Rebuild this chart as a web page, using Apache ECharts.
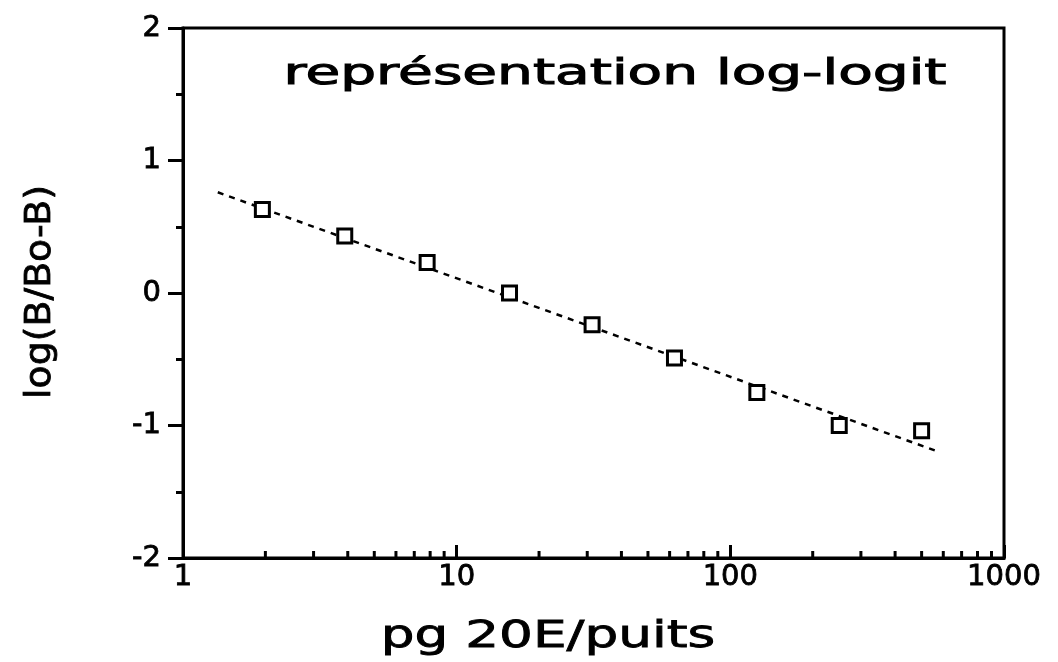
<!DOCTYPE html>
<html>
<head>
<meta charset="utf-8">
<script src="https://cdn.jsdelivr.net/npm/echarts@6/dist/echarts.min.js"></script>
<style>
  html, body { margin: 0; padding: 0; background: #fff; }
  #chart { width: 1058px; height: 662px; }
</style>
</head>
<body>
<div id="chart"></div>
<script>
// dosages (pg 20E / puits) et log(B/Bo-B)
var doses = [1.95, 3.9, 7.8, 15.6, 31.25, 62.5, 125, 250, 500];
var logitValues = [0.63, 0.43, 0.23, 0.0, -0.24, -0.49, -0.75, -1.0, -1.04];
// droite de régression (extrémités)
var fitX = [1.34, 580];
var fitY = [0.76, -1.2];
// graduations secondaires de l'axe log
var minorTicksX = [2, 3, 4, 5, 6, 7, 8, 9, 20, 30, 40, 50, 60, 70, 80, 90, 200, 300, 400, 500, 600, 700, 800, 900];

var FONT = '"DejaVu Sans", sans-serif';

var myChart = echarts.init(document.getElementById('chart'));

var labelStyle = {
    color: '#000',
    fontFamily: FONT,
    fontSize: 29,
    textBorderColor: '#000',
    textBorderWidth: 0.8
};

var option = {
    backgroundColor: '#fff',
    animation: false,
    grid: {
        left: 183,
        top: 28,
        right: 54,
        bottom: 104,
        show: true,
        borderColor: '#000',
        borderWidth: 3,
        backgroundColor: 'transparent'
    },
    xAxis: {
        type: 'log',
        logBase: 10,
        min: 1,
        max: 1000,
        axisLine: { show: true, onZero: false, lineStyle: { color: '#000', width: 3 } },
        axisTick: { show: true, inside: true, length: 13, lineStyle: { color: '#000', width: 3 } },
        axisLabel: Object.assign({ margin: 5, formatter: function (v) { return String(v); } }, labelStyle),
        splitLine: { show: false }
    },
    yAxis: {
        type: 'value',
        min: -2,
        max: 2,
        interval: 1,
        axisLine: { show: true, onZero: false, lineStyle: { color: '#000', width: 3 } },
        axisTick: { show: true, inside: false, length: 15, lineStyle: { color: '#000', width: 3 } },
        minorTick: { show: true, splitNumber: 2, length: 7, lineStyle: { color: '#000', width: 3 } },
        axisLabel: Object.assign({ margin: 22 }, labelStyle),
        splitLine: { show: false }
    },
    graphic: [
        {
            type: 'text',
            x: 615, y: 75,
            scaleX: 1.57,
            style: {
                text: 'représentation log-logit',
                font: '36px ' + FONT,
                fill: '#000',
                stroke: '#000',
                lineWidth: 1,
                align: 'center',
                verticalAlign: 'middle'
            }
        },
        {
            type: 'text',
            x: 41, y: 292,
            rotation: Math.PI / 2,
            scaleX: 1.05,
            style: {
                text: 'log(B/Bo-B)',
                font: '36px ' + FONT,
                fill: '#000',
                stroke: '#000',
                lineWidth: 0.8,
                align: 'center',
                verticalAlign: 'middle'
            }
        },
        {
            type: 'text',
            x: 548, y: 637,
            scaleX: 1.4,
            style: {
                text: 'pg 20E/puits',
                font: '38px ' + FONT,
                fill: '#000',
                stroke: '#000',
                lineWidth: 0.8,
                align: 'center',
                verticalAlign: 'middle'
            }
        }
    ],
    series: [
        {
            // petites graduations de l'axe x (vers l'intérieur)
            type: 'custom',
            silent: true,
            data: minorTicksX.map(function (v) { return [v, -2]; }),
            renderItem: function (params, api) {
                var p = api.coord([api.value(0), api.value(1)]);
                return {
                    type: 'line',
                    shape: { x1: p[0], y1: p[1], x2: p[0], y2: p[1] - 7 },
                    style: { stroke: '#000', lineWidth: 3 }
                };
            }
        },
        {
            type: 'line',
            data: fitX.map(function (x, i) { return [x, fitY[i]]; }),
            symbol: 'none',
            lineStyle: { color: '#000', width: 2.5, type: [6, 6] },
            z: 2
        },
        {
            type: 'scatter',
            data: doses.map(function (x, i) { return [x, logitValues[i]]; }),
            symbol: 'rect',
            symbolSize: 14,
            itemStyle: { color: '#fff', borderColor: '#000', borderWidth: 3, opacity: 1 },
            z: 3
        }
    ]
};

myChart.setOption(option);
window.onresize = myChart.resize;
</script>
</body>
</html>
